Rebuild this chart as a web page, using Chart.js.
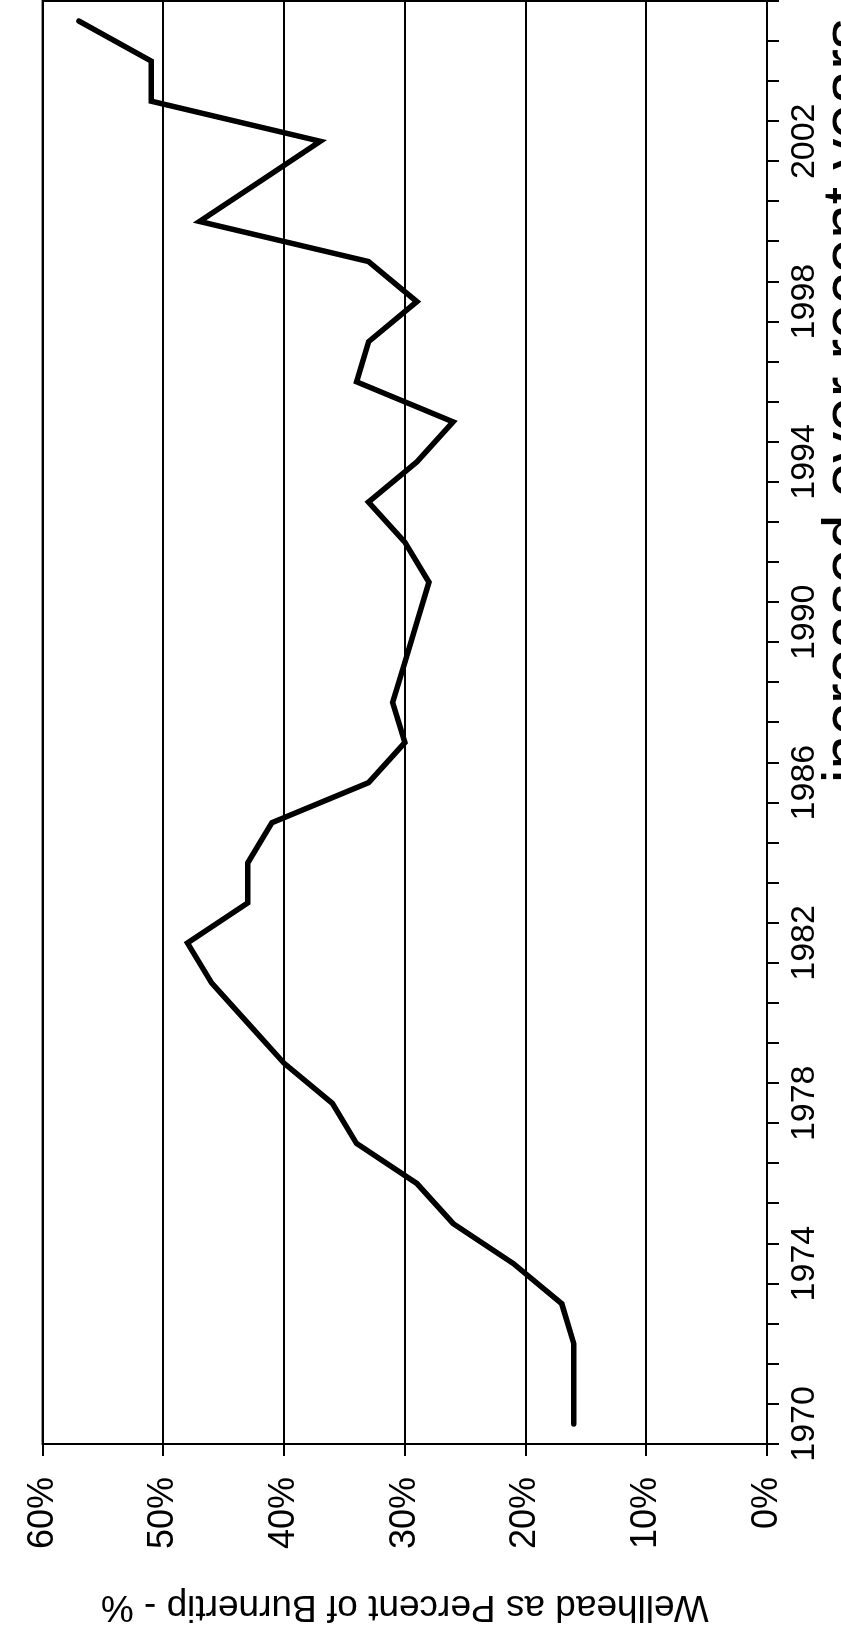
<!DOCTYPE html>
<html>
<head>
<meta charset="utf-8">
<script src="https://cdn.jsdelivr.net/npm/chart.js@4"></script>
<style>
  html, body { margin: 0; padding: 0; background: #fff; }
  #page { position: relative; width: 841px; height: 1634px; overflow: hidden; background: #fff; }
  /* the chart is drawn landscape and turned a quarter turn counter-clockwise;
     the canvas is a little deeper than the page so the title is cut at the edge */
  #turn { position: absolute; left: 0; top: 0; width: 1634px; height: 879px;
          transform-origin: 0 0; transform: translateY(1634px) rotate(-90deg); }
</style>
</head>
<body>
<div id="page">
  <div id="turn"><canvas id="wellhead-chart" width="1634" height="879"></canvas></div>
</div>
<script>
let years = ['1970','1971','1972','1973','1974','1975','1976','1977','1978','1979',
             '1980','1981','1982','1983','1984','1985','1986','1987','1988','1989',
             '1990','1991','1992','1993','1994','1995','1996','1997','1998','1999',
             '2000','2001','2002','2003','2004','2005'];
let shownYears = ['1970','1974','1978','1982','1986','1990','1994','1998','2002'];
let wellheadPct = [16, 16, 16, 17, 21, 26, 29, 34, 36, 40,
                   43, 46, 48, 43, 43, 41, 33, 30, 31, 30,
                   29, 28, 30, 33, 29, 26, 34, 33, 29, 33,
                   47, 42, 37, 51, 51, 57];
let axisTitle = 'Wellhead as Percent of Burnertip - %';
let chartTitle = 'increased over recent years.';

Chart.defaults.font.family = '"Liberation Sans", Arial, sans-serif';
Chart.defaults.color = '#000';

// box around the plot area
const frame = {
    id: 'frame',
    afterDraw(chart) {
        const a = chart.chartArea;
        const ctx = chart.ctx;
        ctx.save();
        ctx.strokeStyle = '#000';
        ctx.lineWidth = 2;
        ctx.strokeRect(a.left, a.top, a.right - a.left, a.bottom - a.top);
        ctx.restore();
    }
};

const wellheadData = {
    labels: years,
    datasets: [
        {
            data: wellheadPct,
            borderColor: '#000',
            borderWidth: 5.5,
            borderCapStyle: 'round',
            borderJoinStyle: 'miter',
            pointRadius: 0,
            tension: 0,
            fill: false,
        }
    ]
};

const wellheadConfig = {
    type: 'line',
    data: wellheadData,
    plugins: [frame],
    options: {
        responsive: false,
        animation: false,
        devicePixelRatio: 1,
        layout: { padding: { top: 27, right: 1, left: 0, bottom: 0 } },
        plugins: {
            legend: { display: false },
            tooltip: { enabled: false },
            title: {
                display: true, position: 'bottom', align: 'end', text: chartTitle,
                font: { size: 62, weight: 'normal', lineHeight: 1 },
                padding: { top: 0, bottom: 0 }
            }
        },
        scales: {
            x: {
                type: 'category',
                offset: true,
                afterFit(s) { s.height = 50; },
                grid: { offset: true, drawOnChartArea: false, drawTicks: true, tickLength: 12, color: '#000', lineWidth: 2 },
                border: { display: true, color: '#000', width: 2 },
                ticks: {
                    autoSkip: false, maxRotation: 0, minRotation: 0, padding: 5,
                    font: { size: 34 },
                    callback(v) {
                        let y = years[v];
                        return shownYears.includes(y) ? y : '';
                    }
                }
            },
            y: {
                min: 0, max: 60,
                afterFit(s) { s.width = 190; },
                grid: { color: '#000', lineWidth: 2, drawTicks: true, tickLength: 12 },
                border: { display: true, color: '#000', width: 2 },
                ticks: { stepSize: 10, padding: 21, font: { size: 36 }, callback: v => v + '%' },
                title: { display: true, text: axisTitle, font: { size: 37 }, padding: { top: 6, bottom: 0 } }
            }
        }
    }
};

const wellheadChart = new Chart(
    document.getElementById('wellhead-chart'),
    wellheadConfig
);
</script>
</body>
</html>
